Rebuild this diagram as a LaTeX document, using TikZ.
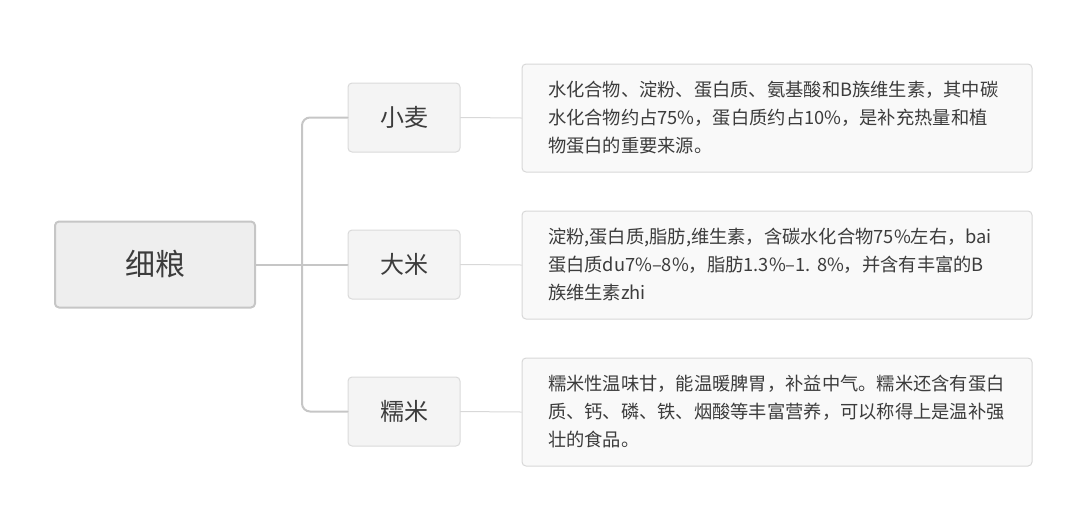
\documentclass[tikz,border=0pt]{standalone}
\usepackage{fontspec}
\setmainfont{Noto Sans CJK SC}
\usepackage{tikz}
\usetikzlibrary{positioning}
\definecolor{rootfill}{HTML}{EEEEEE}
\definecolor{rootline}{HTML}{C6C6C6}
\definecolor{kidfill}{HTML}{F4F4F4}
\definecolor{kidline}{HTML}{DADADA}
\definecolor{notefill}{HTML}{F9F9F9}
\definecolor{noteline}{HTML}{D8D8D8}
\definecolor{inkgray}{HTML}{3C3C3C}

\tikzset{
  rootbox/.style={draw=rootline,fill=rootfill,line width=1.5pt,rounded corners=3pt,
    minimum width=150pt,minimum height=64.5pt,text=inkgray,font=\fontsize{22.5}{27}\selectfont},
  kidbox/.style={draw=kidline,fill=kidfill,line width=0.75pt,rounded corners=3pt,
    minimum width=84pt,minimum height=51.75pt,text=inkgray,font=\fontsize{18}{22}\selectfont},
  notebox/.style={draw=noteline,fill=notefill,line width=0.75pt,rounded corners=3pt,
    minimum width=382.5pt,minimum height=81pt,inner xsep=19.5pt,text width=343.5pt,align=left,
    text=inkgray,font=\fontsize{13.7}{21}\selectfont},
  branch/.style={draw=rootline,line width=1.5pt,rounded corners=6pt},
  twig/.style={draw=noteline,line width=0.75pt}
}

\begin{document}
\begin{tikzpicture}[x=0.75pt,y=-0.75pt,line cap=round,line join=round]
\useasboundingbox (0,0) rectangle (1080,526);
% root
\node[rootbox] (xiliang) at (155,264.5) {细粮};
% kinds
\node[kidbox] (xiaomai) at (404,117.5) {小麦};
\node[kidbox] (dami) at (404,264.5) {大米};
\node[kidbox] (nuomi) at (404,411.5) {糯米};
% notes
\node[notebox] (xiaomaiNote) at (777,118) {水化合物、淀粉、蛋白质、氨基酸和B族维生素，其中碳\\水化合物约占75\%，蛋白质约占10\%，是补充热量和植\\物蛋白的重要来源。};
\node[notebox] (damiNote) at (777,265) {淀粉,蛋白质,脂肪,维生素，含碳水化合物75\%左右，bai\\蛋白质du7\%–8\%，脂肪1.3\%–1.~8\%，并含有丰富的B\\族维生素zhi};
\node[notebox] (nuomiNote) at (777,412) {糯米性温味甘，能温暖脾胃，补益中气。糯米还含有蛋白\\质、钙、磷、铁、烟酸等丰富营养，可以称得上是温补强\\壮的食品。};
% connectors
\coordinate (trunk) at (302,264.5);
\draw[branch] (xiliang.east) -- (dami.west);
\draw[branch] (trunk) |- (xiaomai.west);
\draw[branch] (trunk) |- (nuomi.west);
\draw[twig] (xiaomai.east) -- (xiaomaiNote.west);
\draw[twig] (dami.east) -- (damiNote.west);
\draw[twig] (nuomi.east) -- (nuomiNote.west);
\end{tikzpicture}
\end{document}
